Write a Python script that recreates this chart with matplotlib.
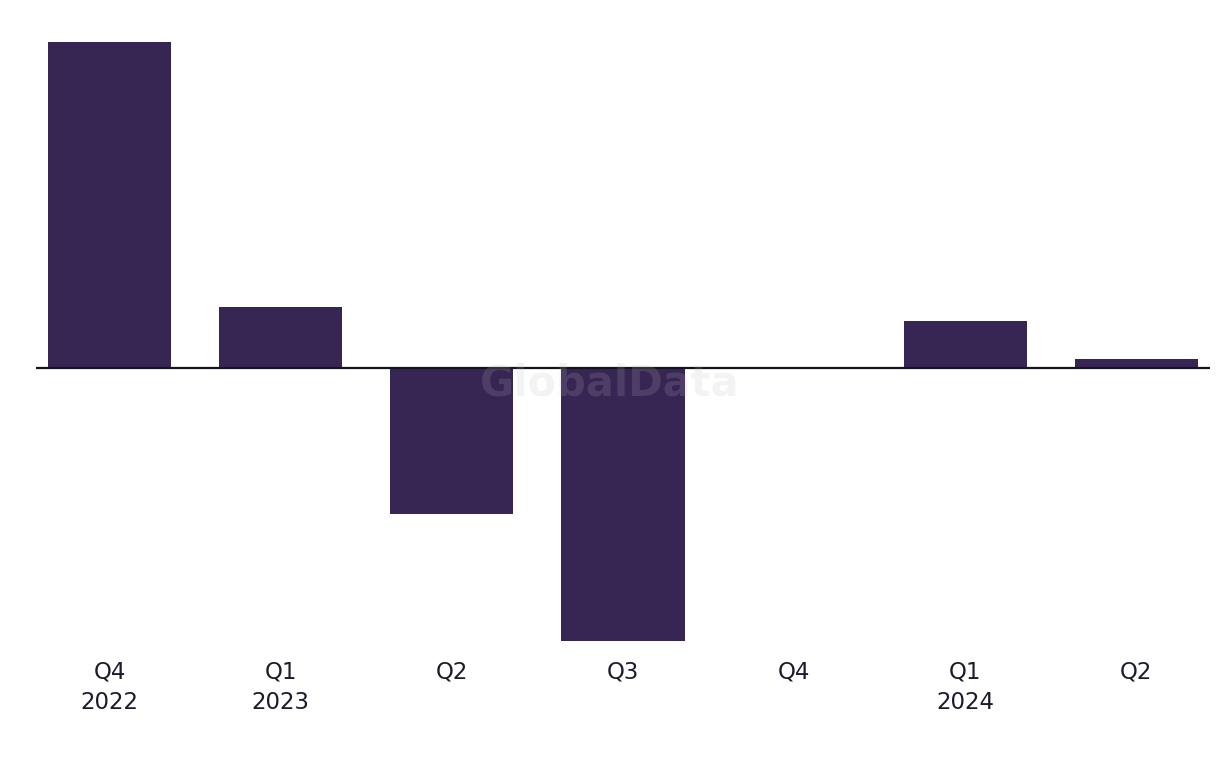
"""Quarterly bar chart with a zero baseline and a GlobalData watermark."""
import matplotlib
matplotlib.use("Agg")
import matplotlib.pyplot as plt

quarters = ["Q4\n2022", "Q1\n2023", "Q2", "Q3", "Q4", "Q1\n2024", "Q2"]
values = [326, 61, -146, -273, 0, 47, 9]

bar_color = "#372554"
text_color = "#1c1b2e"

fig = plt.figure(figsize=(12.2, 7.68), dpi=100)
ax = fig.add_axes([36 / 1220, 127 / 768, 1174 / 1220, 599 / 768])

positions = list(range(len(quarters)))
ax.bar(positions, values, width=0.72, color=bar_color, zorder=2)
ax.axhline(0, color="#14141f", lw=1.6, zorder=3)

ax.set_xlim(-0.43, 6.43)
ax.set_ylim(min(values), max(values))
ax.set_yticks([])
ax.set_xticks(positions)
ax.set_xticklabels(quarters, fontsize=16.5, color=text_color, linespacing=1.4,
                   family=["DejaVu Sans"])
ax.tick_params(axis="x", length=0, pad=14)
for side in ["top", "right", "bottom", "left"]:
    ax.spines[side].set_visible(False)

fig.text(610 / 1220, 1 - 384 / 768, "GlobalData", fontsize=30, fontweight="bold",
         color="#bbbbbb", alpha=0.17, ha="center", va="center", zorder=10)

fig.savefig("out.png", dpi=100)
